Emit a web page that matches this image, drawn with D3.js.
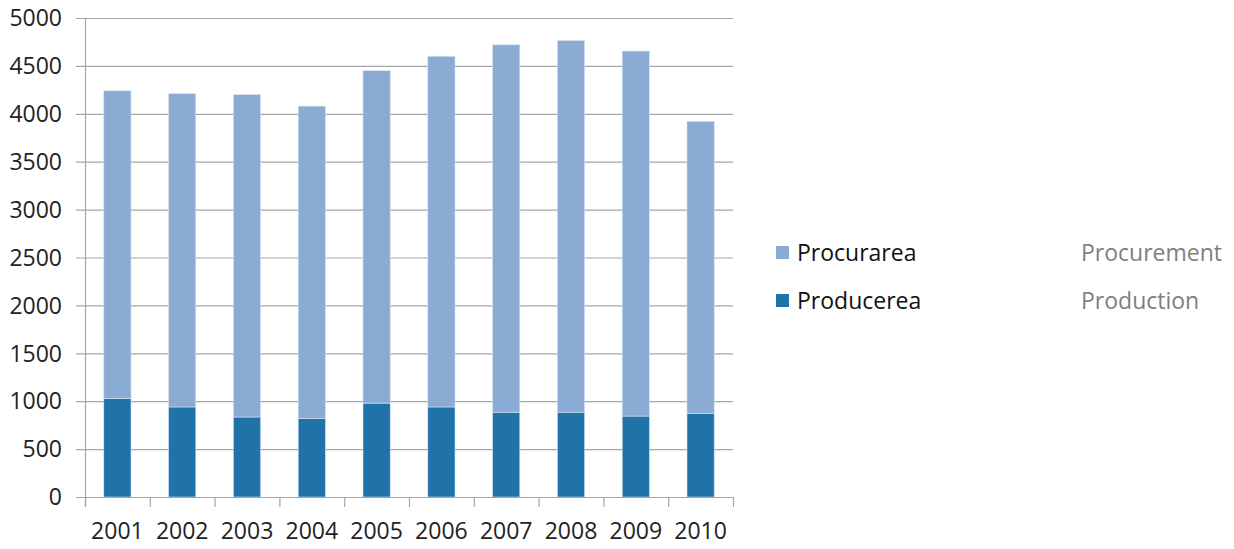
<!DOCTYPE html>
<html>
<head>
<meta charset="utf-8">
<title>Procurarea / Producerea</title>
<script src="https://d3js.org/d3.v7.min.js"></script>
<style>
  body { margin: 0; background: #fff; }
  text { font-family: "Open Sans", "Liberation Sans", sans-serif; }
</style>
</head>
<body>
<script>
var years = ['2001','2002','2003','2004','2005','2006','2007','2008','2009','2010'];
var producerea = [1030, 940, 835, 820, 980, 940, 885, 885, 845, 870];
var procurarea = [3210, 3270, 3365, 3260, 3470, 3660, 3835, 3880, 3810, 3050];
var yTicks = [0, 500, 1000, 1500, 2000, 2500, 3000, 3500, 4000, 4500, 5000];

var width = 1234, height = 549;
var plotL = 85, plotR = 733, plotT = 18, plotB = 497;
var fs = 23;

var svg = d3.select('body').append('svg').attr('width', width).attr('height', height);

var x = d3.scaleBand().domain(years).range([plotL, plotR]).paddingInner(0.58).paddingOuter(0.29);
var y = d3.scaleLinear().domain([0, 5000]).range([plotB, plotT]);

// grid lines
svg.selectAll('.grid').data(yTicks).enter().append('line')
  .attr('x1', plotL - 9).attr('x2', plotR)
  .attr('y1', function(d) { return y(d) + 0.5; })
  .attr('y2', function(d) { return y(d) + 0.5; })
  .attr('stroke', '#a6a6a6').attr('stroke-width', 1.2);

// y labels
svg.selectAll('.ylab').data(yTicks).enter().append('text')
  .attr('x', 62).attr('y', function(d) { return y(d); })
  .attr('dy', '0.36em').attr('text-anchor', 'end')
  .attr('font-size', fs).attr('fill', '#222')
  .text(function(d) { return d; });

var rows = years.map(function(yr, i) {
  return { year: yr, prod: producerea[i], proc: procurarea[i] };
});
var stack = d3.stack().keys(['prod', 'proc'])(rows);
var colors = { prod: '#1f73a9', proc: '#8aabd3' };

stack.forEach(function(layer) {
  svg.selectAll('.b' + layer.key).data(layer).enter().append('rect')
    .attr('x', function(d) { return x(d.data.year); })
    .attr('width', x.bandwidth())
    .attr('y', function(d) { return y(d[1]); })
    .attr('height', function(d) { return y(d[0]) - y(d[1]); })
    .attr('fill', colors[layer.key])
    .attr('stroke', '#d6e2f0').attr('stroke-width', 0.6);
});

// y axis line
svg.append('line').attr('x1', plotL + 0.5).attr('x2', plotL + 0.5)
  .attr('y1', plotT).attr('y2', plotB + 10)
  .attr('stroke', '#a6a6a6').attr('stroke-width', 1.2);

// x axis line
svg.append('line').attr('x1', plotL).attr('x2', plotR)
  .attr('y1', plotB + 0.5).attr('y2', plotB + 0.5)
  .attr('stroke', '#a6a6a6').attr('stroke-width', 1.2);

// x tick marks at band boundaries
var bounds = d3.range(years.length + 1).map(function(i) { return plotL + i * (plotR - plotL) / years.length; });
svg.selectAll('.xt').data(bounds).enter().append('line')
  .attr('x1', function(d) { return d + 0.5; }).attr('x2', function(d) { return d + 0.5; })
  .attr('y1', plotB).attr('y2', plotB + 10)
  .attr('stroke', '#a6a6a6').attr('stroke-width', 1.2);

// x labels
svg.selectAll('.xlab').data(years).enter().append('text')
  .attr('x', function(d) { return x(d) + x.bandwidth() / 2; })
  .attr('y', 539).attr('text-anchor', 'middle')
  .attr('font-size', fs).attr('fill', '#222')
  .text(function(d) { return d; });

// legend
var legend = [
  { name: 'Procurarea', en: 'Procurement', key: 'proc', y: 260 },
  { name: 'Producerea', en: 'Production', key: 'prod', y: 308 }
];
var lg = svg.selectAll('.lg').data(legend).enter().append('g');
lg.append('rect').attr('x', 776).attr('y', function(d) { return d.y - 14; })
  .attr('width', 13).attr('height', 13).attr('fill', function(d) { return colors[d.key]; });
lg.append('text').attr('x', 797).attr('y', function(d) { return d.y + 1; })
  .attr('font-size', fs).attr('fill', '#111').text(function(d) { return d.name; });
lg.append('text').attr('x', 1081).attr('y', function(d) { return d.y + 1; })
  .attr('font-size', fs).attr('fill', '#7f7f7f').text(function(d) { return d.en; });
</script>
</body>
</html>
